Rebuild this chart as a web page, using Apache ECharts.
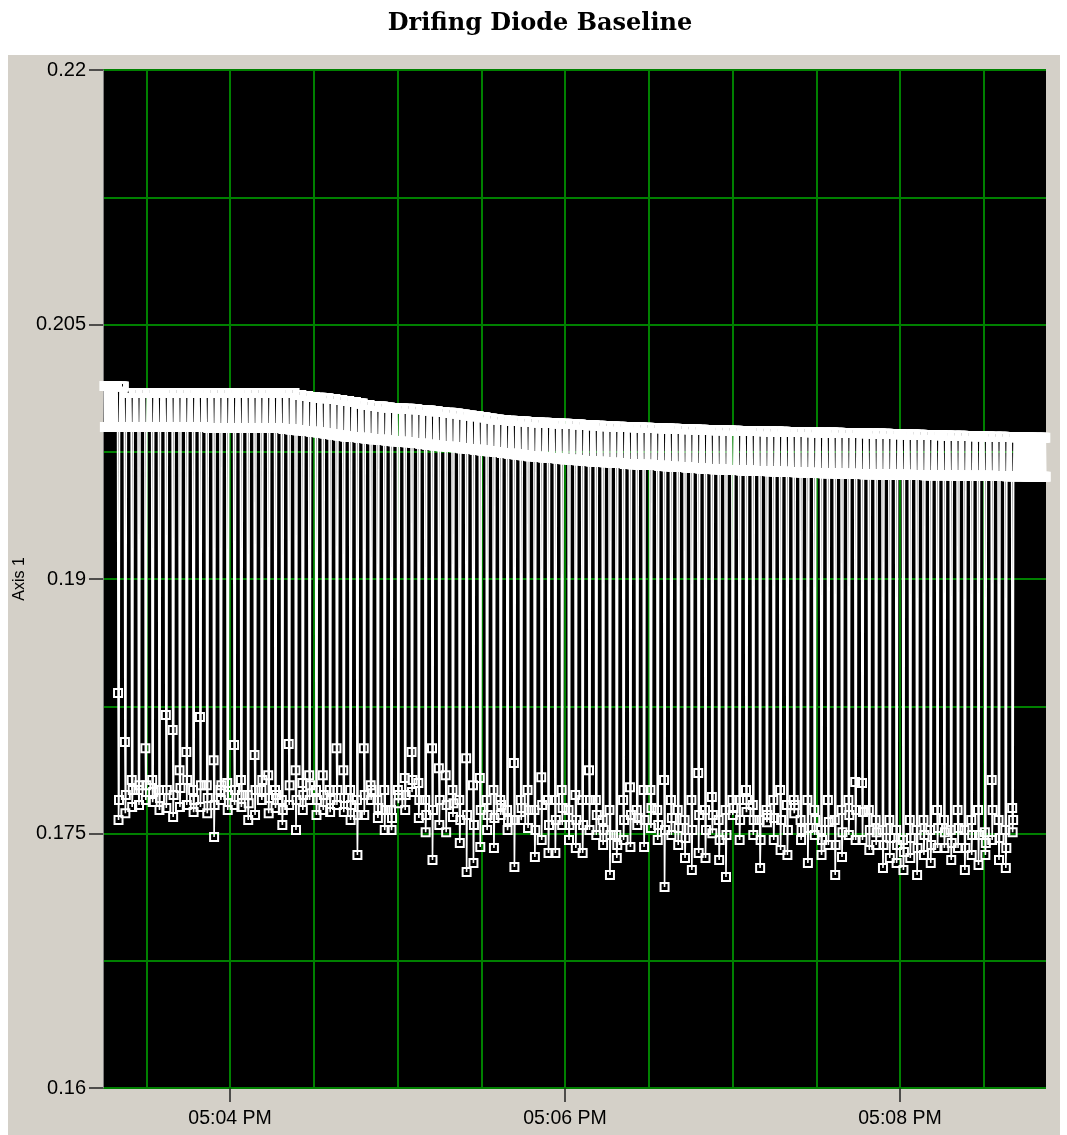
<!DOCTYPE html>
<html><head><meta charset="utf-8">
<script src="https://cdn.jsdelivr.net/npm/echarts@6/dist/echarts.min.js"></script>
<style>html,body{margin:0;padding:0;background:#fff}#c{width:1067px;height:1135px}</style>
</head><body><div id="c"></div>
<script>
const chartTitle = 'Drifing Diode Baseline';
const yAxisName = 'Axis 1';
const yMin = 0.16, yMax = 0.22;
const yGridValues = [0.16, 0.1675, 0.175, 0.1825, 0.19, 0.1975, 0.205, 0.2125, 0.22];
const yLabelValues = [0.16, 0.175, 0.19, 0.205, 0.22];
const xMinTime = '17:03:14.5', xMaxTime = '17:08:52.3';
const xGridTimes = ['17:03:30','17:04:00','17:04:30','17:05:00','17:05:30','17:06:00','17:06:30','17:07:00','17:07:30','17:08:00','17:08:30'];
const xLabelTimes = ['17:04:00','17:06:00','17:08:00'];
const sampleStart = '17:03:15';
const samplesPerCycle = 14;
const sampleInterval = 0.17464; // seconds between samples

// per cycle: upper and lower edge of the high (baseline) band
const bandUpper = [
0.20137,0.20137,0.20134,0.20096,0.20096,0.20096,0.20096,0.20096,0.20096,0.20096,
0.20096,0.20096,0.20096,0.20096,0.20096,0.20096,0.20096,0.20096,0.20096,0.20096,
0.20096,0.20096,0.20096,0.20096,0.20096,0.20096,0.20096,0.20096,0.20084,0.20079,
0.20073,0.20069,0.20065,0.20061,0.20055,0.20049,0.20043,0.20034,0.20026,0.20020,
0.20016,0.20011,0.20008,0.20005,0.20003,0.20001,0.19996,0.19993,0.19989,0.19985,
0.19980,0.19976,0.19970,0.19964,0.19959,0.19954,0.19946,0.19940,0.19937,0.19933,
0.19931,0.19928,0.19925,0.19923,0.19921,0.19919,0.19917,0.19915,0.19913,0.19911,
0.19908,0.19906,0.19903,0.19901,0.19899,0.19898,0.19896,0.19894,0.19893,0.19891,
0.19890,0.19888,0.19887,0.19885,0.19884,0.19883,0.19881,0.19880,0.19878,0.19877,
0.19876,0.19875,0.19874,0.19873,0.19872,0.19872,0.19871,0.19870,0.19869,0.19868,
0.19867,0.19866,0.19866,0.19865,0.19864,0.19864,0.19863,0.19862,0.19861,0.19860,
0.19860,0.19859,0.19858,0.19857,0.19856,0.19854,0.19853,0.19852,0.19851,0.19850,
0.19849,0.19848,0.19847,0.19846,0.19845,0.19844,0.19843,0.19842,0.19841,0.19840,
0.19839,0.19838,0.19837,0.19836,0.19835,0.19834,0.19833,0.19832];
const bandLower = [
0.19896,0.19896,0.19896,0.19896,0.19896,0.19896,0.19896,0.19896,0.19896,0.19896,
0.19896,0.19896,0.19896,0.19896,0.19896,0.19890,0.19890,0.19890,0.19890,0.19890,
0.19890,0.19890,0.19890,0.19890,0.19890,0.19890,0.19884,0.19881,0.19876,0.19872,
0.19868,0.19863,0.19858,0.19852,0.19846,0.19840,0.19837,0.19832,0.19828,0.19824,
0.19820,0.19816,0.19812,0.19809,0.19806,0.19801,0.19797,0.19791,0.19787,0.19783,
0.19779,0.19776,0.19771,0.19766,0.19762,0.19758,0.19753,0.19748,0.19743,0.19738,
0.19734,0.19729,0.19724,0.19720,0.19716,0.19713,0.19710,0.19706,0.19703,0.19700,
0.19696,0.19693,0.19691,0.19688,0.19685,0.19683,0.19678,0.19676,0.19674,0.19673,
0.19672,0.19668,0.19665,0.19662,0.19660,0.19657,0.19654,0.19651,0.19649,0.19647,
0.19645,0.19643,0.19642,0.19640,0.19639,0.19637,0.19636,0.19635,0.19633,0.19632,
0.19630,0.19629,0.19627,0.19626,0.19625,0.19624,0.19623,0.19622,0.19621,0.19620,
0.19619,0.19618,0.19617,0.19616,0.19616,0.19615,0.19614,0.19614,0.19613,0.19613,
0.19612,0.19612,0.19611,0.19611,0.19610,0.19610,0.19609,0.19609,0.19608,0.19608,
0.19607,0.19607,0.19606,0.19606,0.19605,0.19604,0.19603,0.19602];
// per cycle: the three samples of each dip (null = no dip in that cycle)
const dipFirst = [
null,null,0.18328,0.18039,0.17815,0.17756,0.18003,0.17815,0.17756,0.18198,
0.18110,0.17873,0.17980,0.17756,0.18186,0.17785,0.17932,0.17756,0.17797,0.18021,
0.17815,0.17727,0.17962,0.17756,0.17844,0.17756,0.17697,0.18027,0.17873,0.17797,
0.17844,0.17756,0.17844,0.17756,0.18003,0.17873,0.17756,0.17697,0.18003,0.17785,
0.17697,0.17756,0.17638,0.17756,0.17827,0.17980,0.17797,0.17697,0.18003,0.17885,
0.17844,0.17756,0.17697,0.17944,0.17785,0.17827,0.17697,0.17756,0.17697,0.17638,
0.17915,0.17697,0.17756,0.17638,0.17832,0.17697,0.17697,0.17756,0.17638,0.17727,
0.17697,0.17873,0.17697,0.17579,0.17638,0.17491,0.17697,0.17773,0.17638,0.17756,
0.17756,0.17638,0.17815,0.17697,0.17638,0.17579,0.17697,0.17856,0.17638,0.17715,
0.17579,0.17638,0.17697,0.17697,0.17756,0.17668,0.17579,0.17638,0.17697,0.17756,
0.17668,0.17697,0.17579,0.17697,0.17638,0.17520,0.17697,0.17579,0.17638,0.17697,
0.17803,0.17797,0.17638,0.17579,0.17520,0.17579,0.17520,0.17462,0.17579,0.17520,
0.17579,0.17520,0.17638,0.17579,0.17520,0.17638,0.17520,0.17579,0.17638,0.17508,
0.17815,0.17579,0.17520,0.17650,null,null,null,null];
const dipSecond = [
null,null,0.17579,0.17620,0.17656,0.17668,0.17697,0.17685,0.17638,0.17650,
0.17597,0.17656,0.17668,0.17626,0.17656,0.17620,0.17479,0.17697,0.17638,0.17668,
0.17656,0.17579,0.17609,0.17697,0.17620,0.17650,0.17550,0.17668,0.17520,0.17638,
0.17697,0.17609,0.17638,0.17626,0.17668,0.17626,0.17579,0.17373,0.17609,0.17697,
0.17591,0.17520,0.17520,0.17679,0.17638,0.17744,0.17591,0.17508,0.17344,0.17550,
0.17508,0.17597,0.17444,0.17273,0.17326,0.17420,0.17520,0.17414,0.17609,0.17520,
0.17303,0.17579,0.17532,0.17361,0.17462,0.17385,0.17385,0.17550,0.17462,0.17414,
0.17385,0.17520,0.17491,0.17432,0.17256,0.17356,0.17462,0.17420,0.17550,0.17420,
0.17532,0.17462,0.17185,0.17491,0.17432,0.17356,0.17285,0.17385,0.17356,0.17502,
0.17344,0.17244,0.17609,0.17462,0.17626,0.17491,0.17297,0.17567,0.17462,0.17403,
0.17373,0.17620,0.17462,0.17326,0.17491,0.17373,0.17432,0.17256,0.17361,0.17491,
0.17462,0.17462,0.17403,0.17432,0.17297,0.17356,0.17326,0.17285,0.17356,0.17256,
0.17373,0.17326,0.17414,0.17414,0.17344,0.17414,0.17285,0.17373,0.17314,0.17373,
0.17462,0.17344,0.17297,0.17508,null,null,null,null];
const dipThird = [
null,null,0.17697,0.17727,0.17756,0.17785,0.17785,0.17745,0.17709,0.17756,
0.17727,0.17768,0.17815,0.17697,0.17785,0.17709,0.17668,0.17785,0.17727,0.17756,
0.17727,0.17679,0.17756,0.17815,0.17709,0.17727,0.17638,0.17785,0.17697,0.17727,
0.17785,0.17697,0.17727,0.17697,0.17756,0.17709,0.17668,0.17609,0.17727,0.17756,
0.17650,0.17638,0.17591,0.17727,0.17727,0.17815,0.17697,0.17609,0.17638,0.17697,
0.17668,0.17679,0.17579,0.17609,0.17550,0.17638,0.17609,0.17591,0.17668,0.17579,
0.17579,0.17650,0.17638,0.17520,0.17668,0.17550,0.17579,0.17650,0.17550,0.17579,
0.17550,0.17697,0.17609,0.17520,0.17491,0.17432,0.17579,0.17609,0.17591,0.17579,
0.17650,0.17550,0.17520,0.17591,0.17532,0.17473,0.17520,0.17609,0.17520,0.17609,
0.17462,0.17491,0.17650,0.17579,0.17697,0.17579,0.17462,0.17609,0.17591,0.17579,
0.17520,0.17668,0.17520,0.17532,0.17579,0.17462,0.17568,0.17432,0.17508,0.17609,
0.17638,0.17626,0.17520,0.17508,0.17432,0.17473,0.17432,0.17391,0.17473,0.17414,
0.17491,0.17432,0.17532,0.17508,0.17444,0.17532,0.17414,0.17491,0.17491,0.17444,
0.17638,0.17473,0.17414,0.17579,null,null,null,null];

function secs(s) { const p = s.split(':').map(Number); return p[0]*3600 + p[1]*60 + p[2]; }
function pad(n) { return (n < 10 ? '0' : '') + n; }
function fmtTime(v) {
  const h = Math.floor(v/3600), m = Math.floor((v % 3600)/60 + 1e-6);
  return pad(h % 12 || 12) + ':' + pad(m) + ' ' + (h >= 12 ? 'PM' : 'AM');
}

const t0 = secs(sampleStart);
const data = [];
let idx = 0;
for (let j = 0; j < bandUpper.length; j++) {
  const vals = [];
  if (dipFirst[j] != null) vals.push(dipFirst[j], dipSecond[j], dipThird[j]);
  while (vals.length < samplesPerCycle) vals.push(vals.length % 2 ? bandLower[j] : bandUpper[j]);
  for (const v of vals) { data.push([t0 + idx * sampleInterval, v]); idx++; }
}

const xMin = secs(xMinTime), xMax = secs(xMaxTime);
const labelFont = '"Liberation Sans", Arial, sans-serif';
const green = '#008000';

const chart = echarts.init(document.getElementById('c'), null, {renderer: 'canvas'});
chart.setOption({
  animation: false,
  backgroundColor: '#ffffff',
  graphic: [{type: 'rect', z: -100, silent: true, shape: {x: 8, y: 55, width: 1052, height: 1090}, style: {fill: '#d4d0c8'}}],
  title: {
    text: chartTitle, left: 535, top: 7, textAlign: 'center',
    textStyle: {fontFamily: '"DejaVu Serif", serif', fontWeight: 'bold', fontSize: 24, color: '#000'}
  },
  grid: {left: 103, top: 70, width: 943, height: 1018, show: true, backgroundColor: '#000', borderWidth: 0, containLabel: false},
  xAxis: [
    {type: 'value', min: xMin, max: xMax, position: 'bottom',
     axisLine: {show: false}, axisTick: {show: false, customValues: xGridTimes.map(secs)},
     axisLabel: {show: false}, splitLine: {show: true, lineStyle: {color: green, width: 2}}},
    {type: 'value', min: xMin, max: xMax, position: 'bottom',
     axisLine: {show: false},
     axisTick: {show: true, customValues: xLabelTimes.map(secs), length: 14, lineStyle: {color: '#222', width: 1.5}},
     axisLabel: {show: true, customValues: xLabelTimes.map(secs), formatter: fmtTime, margin: 21,
       fontFamily: labelFont, fontSize: 19.5, color: '#000'},
     splitLine: {show: false}}
  ],
  yAxis: [
    {type: 'value', min: yMin, max: yMax, position: 'left',
     name: yAxisName, nameLocation: 'middle', nameGap: 75, nameRotate: 90,
     nameTextStyle: {fontFamily: labelFont, fontSize: 16, color: '#000'},
     axisLine: {show: true, lineStyle: {color: '#808080', width: 1}},
     axisTick: {show: false, customValues: yGridValues},
     axisLabel: {show: false}, splitLine: {show: true, lineStyle: {color: green, width: 2}}},
    {type: 'value', min: yMin, max: yMax, position: 'left',
     axisLine: {show: false},
     axisTick: {show: true, customValues: yLabelValues, length: 14, lineStyle: {color: '#222', width: 1.5}},
     axisLabel: {show: true, customValues: yLabelValues, margin: 17,
       formatter: v => String(parseFloat(Number(v).toFixed(4))),
       fontFamily: labelFont, fontSize: 20, color: '#000'},
     splitLine: {show: false}}
  ],
  series: [{
    type: 'line', xAxisIndex: 0, yAxisIndex: 0, data: data,
    symbol: 'rect', symbolSize: 8, showSymbol: true, showAllSymbol: true,
    itemStyle: {color: 'rgba(0,0,0,0)', borderColor: '#ffffff', borderWidth: 2},
    lineStyle: {color: '#ffffff', width: 1.6},
    emphasis: {disabled: true}, silent: true, clip: true
  }]
});
</script></body></html>
